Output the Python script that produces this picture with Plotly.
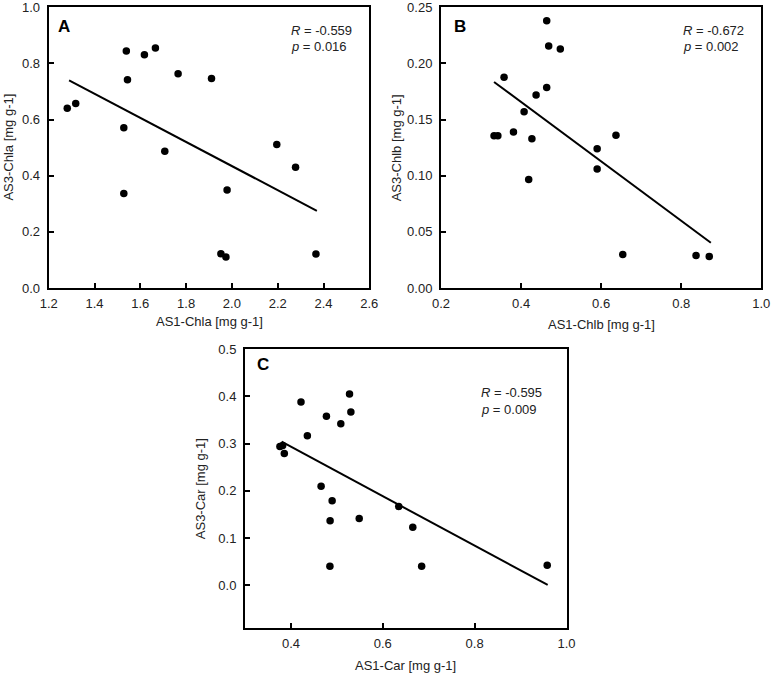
import plotly.graph_objects as go

# ---------------- data ----------------
a_x = [1.281, 1.318, 1.539, 1.544, 1.528, 1.528, 1.618, 1.666, 1.765, 1.707,
       1.911, 1.979, 1.952, 1.974, 2.196, 2.278, 2.367]
a_y = [0.640, 0.657, 0.844, 0.742, 0.571, 0.337, 0.831, 0.855, 0.763, 0.487,
       0.746, 0.349, 0.122, 0.110, 0.511, 0.430, 0.121]
a_fit_x = [1.289, 2.371]
a_fit_y = [0.740, 0.275]

b_x = [0.3325, 0.342, 0.3575, 0.381, 0.4075, 0.419, 0.427, 0.4375, 0.464, 0.469,
       0.464, 0.498, 0.590, 0.590, 0.637, 0.654, 0.837, 0.870]
b_y = [0.1355, 0.1355, 0.1877, 0.139, 0.157, 0.0966, 0.133, 0.172, 0.238, 0.2156,
       0.1785, 0.2129, 0.124, 0.1059, 0.1361, 0.0299, 0.029, 0.0281]
b_fit_x = [0.3325, 0.874]
b_fit_y = [0.1835, 0.0403]

c_x = [0.376, 0.382, 0.3856, 0.4219, 0.4358, 0.4773, 0.5086, 0.5276, 0.5305, 0.4657,
       0.4897, 0.4853, 0.4849, 0.5487, 0.6347, 0.6653, 0.6846, 0.958]
c_y = [0.2937, 0.296, 0.279, 0.388, 0.3168, 0.358, 0.342, 0.405, 0.3667, 0.210,
       0.179, 0.137, 0.0407, 0.1414, 0.167, 0.123, 0.0407, 0.0428]
c_fit_x = [0.3797, 0.959]
c_fit_y = [0.304, 0.001]

panel_labels = ["A", "B", "C"]
r_values = ["-0.559", "-0.672", "-0.595"]
p_values = ["0.016", "0.002", "0.009"]

x_titles = ["AS1-Chla [mg g-1]", "AS1-Chlb [mg g-1]", "AS1-Car [mg g-1]"]
y_titles = ["AS3-Chla [mg g-1]", "AS3-Chlb [mg g-1]", "AS3-Car [mg g-1]"]

a_xticks = [1.2, 1.4, 1.6, 1.8, 2.0, 2.2, 2.4, 2.6]
a_yticks = [0.0, 0.2, 0.4, 0.6, 0.8, 1.0]
b_xticks = [0.2, 0.4, 0.6, 0.8, 1.0]
b_yticks = [0.00, 0.05, 0.10, 0.15, 0.20, 0.25]
c_xticks = [0.4, 0.6, 0.8, 1.0]
c_yticks = [0.0, 0.1, 0.2, 0.3, 0.4, 0.5]

# ---------------- figure ----------------
W, H = 773, 675
FONT = "Arial, 'Liberation Sans', Helvetica, sans-serif"
TXT = "#222222"

fig = go.Figure()

panels = [
    dict(x=a_x, y=a_y, fx=a_fit_x, fy=a_fit_y, xa="x", ya="y"),
    dict(x=b_x, y=b_y, fx=b_fit_x, fy=b_fit_y, xa="x2", ya="y2"),
    dict(x=c_x, y=c_y, fx=c_fit_x, fy=c_fit_y, xa="x3", ya="y3"),
]

for p in panels:
    fig.add_trace(go.Scatter(x=p["fx"], y=p["fy"], mode="lines",
                             line=dict(color="black", width=2),
                             xaxis=p["xa"], yaxis=p["ya"], hoverinfo="skip"))
    fig.add_trace(go.Scatter(x=p["x"], y=p["y"], mode="markers",
                             marker=dict(color="black", size=7.5),
                             xaxis=p["xa"], yaxis=p["ya"]))

# pixel boxes -> domains
def xd(l, r):
    return [l / W, r / W]

def yd(t, b):
    return [1 - b / H, 1 - t / H]

axis_common = dict(showline=True, linecolor="black", linewidth=2, mirror=True,
                   ticks="inside", ticklen=5, tickwidth=1.5, tickcolor="black",
                   showgrid=False, zeroline=False, automargin=False,
                   ticklabeloverflow="allow",
                   tickfont=dict(family=FONT, size=13, color=TXT))
xcommon = dict(ticklabelstandoff=2, **axis_common)
ycommon = dict(ticklabelstandoff=4, **axis_common)

fig.update_layout(
    xaxis=dict(domain=xd(48.7, 369.3), range=[1.2, 2.6], tickvals=a_xticks,
               tickformat=".1f", anchor="y", **xcommon),
    yaxis=dict(domain=yd(7.3, 288), range=[0, 1.0], tickvals=a_yticks,
               tickformat=".1f", anchor="x", **ycommon),
    xaxis2=dict(domain=xd(441, 761.3), range=[0.2, 1.0], tickvals=b_xticks,
                tickformat=".1f", anchor="y2", **xcommon),
    yaxis2=dict(domain=yd(7.3, 288), range=[0, 0.25], tickvals=b_yticks,
                tickformat=".2f", anchor="x2", **ycommon),
    xaxis3=dict(domain=xd(245, 566.5), range=[0.3, 1.0], tickvals=c_xticks,
                tickformat=".1f", anchor="y3", **xcommon),
    yaxis3=dict(domain=yd(349, 628), range=[-0.09, 0.5], tickvals=c_yticks,
                tickformat=".1f", anchor="x3", **ycommon),
)

ann = []
refs = [("x domain", "y domain"), ("x2 domain", "y2 domain"), ("x3 domain", "y3 domain")]
label_pos = [(0.022, 0.933), (0.035, 0.933), (0.03, 0.943)]
stat_pos = [(0.75, 0.919, 0.862), (0.748, 0.919, 0.862), (0.727, 0.843, 0.784)]
for i, (xr, yr) in enumerate(refs):
    lx, ly = label_pos[i]
    ann.append(dict(text="<b>%s</b>" % panel_labels[i], x=lx, y=ly, xref=xr, yref=yr,
                    xanchor="left", yanchor="middle", showarrow=False,
                    font=dict(family=FONT, size=17, color="black")))
    sx, sy1, sy2 = stat_pos[i]
    ann.append(dict(text="<i>R</i> = %s" % r_values[i], x=sx, y=sy1, xref=xr, yref=yr,
                    xanchor="left", yanchor="middle", showarrow=False,
                    font=dict(family=FONT, size=13, color=TXT)))
    ann.append(dict(text="<i>p</i> = %s" % p_values[i], x=sx, y=sy2, xref=xr, yref=yr,
                    xanchor="left", yanchor="middle", showarrow=False,
                    font=dict(family=FONT, size=13, color=TXT)))

# axis titles (paper coordinates)
xt_pos = [(209 / W, 1 - 321.7 / H), (601 / W, 1 - 324 / H), (405.7 / W, 1 - 665 / H)]
yt_pos = [(9 / W, 1 - 147.6 / H), (396.7 / W, 1 - 147.6 / H), (200.7 / W, 1 - 488.5 / H)]
for i in range(3):
    ann.append(dict(text=x_titles[i], x=xt_pos[i][0], y=xt_pos[i][1], xref="paper", yref="paper",
                    xanchor="center", yanchor="middle", showarrow=False,
                    font=dict(family=FONT, size=13, color=TXT)))
    ann.append(dict(text=y_titles[i], x=yt_pos[i][0], y=yt_pos[i][1], xref="paper", yref="paper",
                    xanchor="center", yanchor="middle", showarrow=False, textangle=-90,
                    font=dict(family=FONT, size=13, color=TXT)))

fig.update_layout(
    width=W, height=H,
    margin=dict(l=0, r=0, t=0, b=0),
    paper_bgcolor="white", plot_bgcolor="white",
    showlegend=False,
    annotations=ann,
)

fig.write_html("out.html",
               config={"displayModeBar": False},
               post_script="document.body.style.margin='0';document.body.style.overflow='hidden';")
